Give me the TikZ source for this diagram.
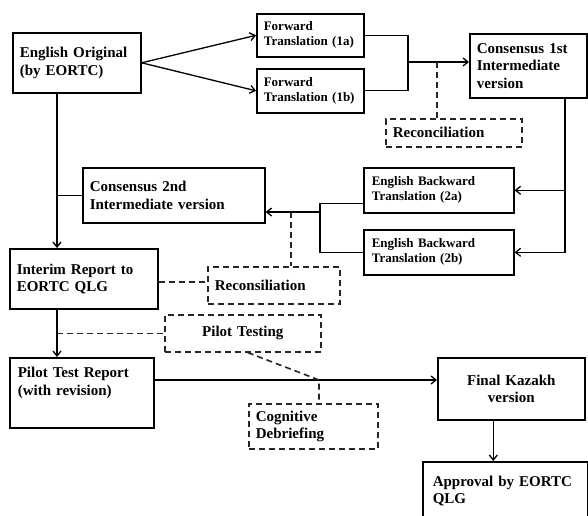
\documentclass[tikz,border=0pt]{standalone}
\usepackage{fontspec}
\setmainfont{Liberation Serif}
\usetikzlibrary{arrows.meta}
\newcommand{\StageText}{\fontsize{15}{17.5}\selectfont\bfseries}
\newcommand{\SmallText}{\fontsize{13}{15}\selectfont\bfseries}
\tikzset{
  every node/.style={text=black},
  stagebox/.style 2 args={
    rectangle, draw=black, line width=1.6pt, anchor=north west,
    minimum width=#1, minimum height=#2, text width=#1-14pt,
    align=left, inner xsep=6pt, inner ysep=0pt, font=\StageText
  },
  notebox/.style 2 args={
    rectangle, draw=black!85, line width=1.6pt, dash pattern=on 6pt off 4pt,
    anchor=north west, minimum width=#1, minimum height=#2, text width=#1-14pt,
    align=left, inner xsep=6pt, inner ysep=0pt, font=\StageText
  },
  flow/.style={line width=1.3pt, draw=black},
  flowto/.style={flow, -{Straight Barb[length=5pt,width=8pt]}},
  link/.style={line width=1.6pt, draw=black!85, dash pattern=on 6pt off 4pt}
}

\begin{document}
\begin{tikzpicture}[x=1pt,y=-1pt]
\useasboundingbox (0,0) rectangle (588,515);

% =========================
% MAIN STAGES
% =========================
\node[stagebox={128pt}{60pt}] (orig) at (12,32) {English Original\\(by EORTC)};
\node[stagebox={107pt}{43pt}, font=\SmallText] (fwa) at (256,13) {Forward\\Translation (1a)};
\node[stagebox={107pt}{44pt}, font=\SmallText] (fwb) at (256,68) {Forward\\Translation (1b)};
\node[stagebox={117pt}{64pt}] (consA) at (469,33) {Consensus 1st\\Intermediate\\version};
\node[stagebox={182pt}{55pt}] (consB) at (82,167) {Consensus 2nd\\Intermediate version};
\node[stagebox={148pt}{45pt}, font=\SmallText, inner xsep=8pt] (bwa) at (363,167) {English Backward\\Translation (2a)};
\node[stagebox={148pt}{45pt}, font=\SmallText, inner xsep=8pt] (bwb) at (363,229) {English Backward\\Translation (2b)};
\node[stagebox={148pt}{60pt}] (interim) at (9,248) {Interim Report to\\EORTC QLG};
\node[stagebox={142pt}{70pt}, inner xsep=8pt, text depth=41pt] (report) at (9,357) {Pilot Test Report\\(with revision)};
\node[stagebox={147pt}{62pt}, align=center] (final) at (437,357) {Final Kazakh\\version};
\node[stagebox={162pt}{58pt}, inner xsep=10pt, text width=145pt] (approve) at (422,461) {Approval by EORTC\\QLG};

% =========================
% DASHED SIDE STEPS
% =========================
\node[notebox={136pt}{28pt}] (recA) at (385,118) {Reconciliation};
\node[notebox={132pt}{37pt}] (recB) at (207,266) {Reconsiliation};
\node[notebox={156pt}{37pt}, align=center] (pilot) at (164,314) {Pilot Testing};
\node[notebox={129pt}{45pt}] (cogn) at (248,403) {Cognitive\\Debriefing};

% =========================
% CONNECTORS
% =========================
\coordinate (joinA) at (408,62);
\coordinate (tapA)  at (437,62);
\coordinate (railR) at (565,0);
\coordinate (railL) at (320,212);
\coordinate (tapB)  at (291,212);
\coordinate (railV) at (57,0);
\coordinate (joinC) at (319,380);

% forward translations
\draw[flowto] (orig.east) -- (fwa.west);
\draw[flowto] (orig.east) -- (fwb.west);
\draw[flow] (fwa.east) -| (joinA) |- (fwb.east);
\draw[flowto] (joinA) -- (joinA -| consA.west);
\draw[link] (tapA) -- (tapA |- recA.north);

% backward translations
\draw[flowto] (consA.south -| railR) |- (bwb.east);
\draw[flowto] (railR |- bwa.east) -- (bwa.east);
\draw[flow] ([yshift=-13pt]bwa.west) -| (railL) |- (bwb.west);
\draw[flowto] (railL) -- (railL -| consB.east);
\draw[link] (tapB) -- (tapB |- recB.north);

% left column
\draw[flowto] (orig.south -| railV) -- (interim.north -| railV);
\draw[flow] (consB.west) -- (consB.west -| railV);
\draw[link] ([yshift=-3pt]interim.east) -- ([yshift=-3pt]interim.east -| recB.west);
\draw[flowto] (interim.south -| railV) -- (report.north -| railV);
\draw[link] (pilot.west -| railV) -- (pilot.west);

% pilot test to final version
\draw[flowto] (joinC -| report.east) -- (joinC -| final.west);
\draw[link] ([xshift=5pt]pilot.south) -- (joinC) -- (joinC |- cogn.north);
\draw[flowto] ([xshift=-18pt]final.south) -- ([xshift=-18pt]final.south |- approve.north);

\end{tikzpicture}
\end{document}
